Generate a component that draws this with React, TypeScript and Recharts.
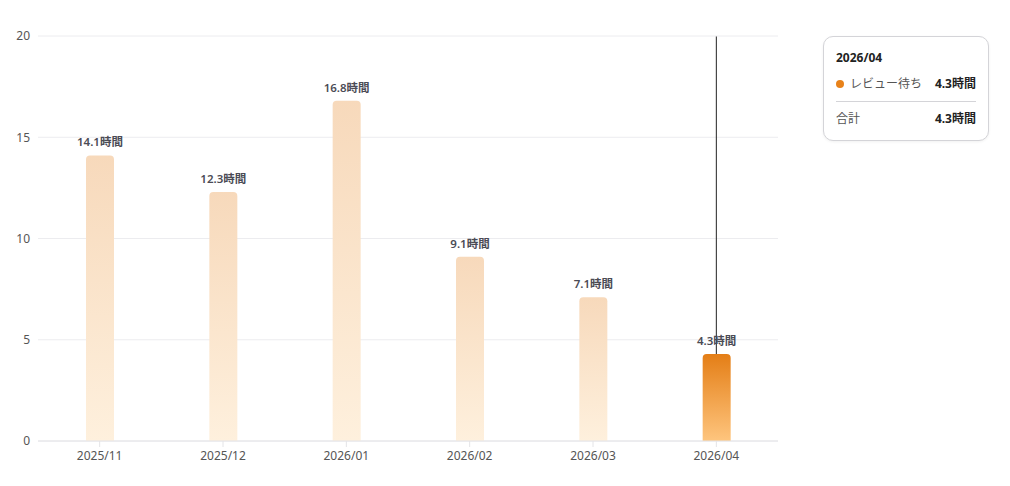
import React from 'react';
import { BarChart, Bar, XAxis, YAxis, CartesianGrid, Tooltip, LabelList, Cell } from 'recharts';

const categories = ['2025/11', '2025/12', '2026/01', '2026/02', '2026/03', '2026/04'];
const reviewHours = [14.1, 12.3, 16.8, 9.1, 7.1, 4.3];
const yTicks = [0, 5, 10, 15, 20];
const activeIndex = 5;
const seriesName = 'レビュー待ち';

const data = categories.map((c, i) => ({ month: c, review: reviewHours[i] }));

const FONT = '"Noto Sans", "Noto Sans CJK JP", sans-serif';

const CursorLine = (props: any) => {
  const { x, y, width, height, points } = props;
  if (typeof x === 'number' && typeof width === 'number') {
    const cx = x + width / 2;
    return <line x1={cx} x2={cx} y1={y} y2={y + height} stroke="#222" strokeWidth={1} />;
  }
  if (points && points.length >= 2) {
    return <line x1={points[0].x} x2={points[1].x} y1={points[0].y} y2={points[1].y} stroke="#222" strokeWidth={1} />;
  }
  return null;
};

const CustomTooltip = (props: any) => {
  const { active, payload, label } = props;
  if (!active || !payload || !payload.length) return null;
  const v = payload[0].value;
  const total = payload.reduce((s: number, p: any) => s + (p.value || 0), 0);
  return (
    <div
      style={{
        width: 166,
        boxSizing: 'border-box',
        background: '#fff',
        border: '1px solid #d4d4d8',
        borderRadius: 10,
        padding: '12px 12px 12px 12px',
        fontFamily: FONT,
        fontSize: 12,
        color: '#222',
        boxShadow: '0 1px 3px rgba(0,0,0,0.06)',
      }}
    >
      <div style={{ fontWeight: 700, fontSize: 12, marginBottom: 8, lineHeight: '18px' }}>{label}</div>
      <div style={{ display: 'flex', alignItems: 'center', justifyContent: 'space-between', lineHeight: '18px' }}>
        <span style={{ display: 'flex', alignItems: 'center', color: '#555' }}>
          <span style={{ width: 8, height: 8, borderRadius: 4, background: '#E8821A', display: 'inline-block', marginRight: 6 }} />
          {seriesName}
        </span>
        <span style={{ fontWeight: 700 }}>{v}時間</span>
      </div>
      <div style={{ borderTop: '1px solid #d4d4d8', margin: '8px 0 8px 0' }} />
      <div style={{ display: 'flex', justifyContent: 'space-between', lineHeight: '18px' }}>
        <span style={{ color: '#555' }}>合計</span>
        <span style={{ fontWeight: 700 }}>{Math.round(total * 10) / 10}時間</span>
      </div>
    </div>
  );
};

export default function App() {
  return (
    <div style={{ width: 994, height: 470, fontFamily: FONT }}>
      <BarChart
        width={994}
        height={470}
        data={data}
        margin={{ top: 28, right: 224, bottom: 7, left: 0 }}
      >
        <defs>
          <linearGradient id="orangeGrad" x1="0" y1="0" x2="0" y2="1">
            <stop offset="0%" stopColor="#E47E16" />
            <stop offset="100%" stopColor="#FEC57E" />
          </linearGradient>
          <linearGradient id="paleGrad" x1="0" y1="0" x2="0" y2="1">
            <stop offset="0%" stopColor="#F7D9BB" />
            <stop offset="100%" stopColor="#FEF0DD" />
          </linearGradient>
        </defs>
        <CartesianGrid vertical={false} stroke="#ececef" />
        <XAxis
          dataKey="month"
          tick={{ fontSize: 12, fill: '#555', fontFamily: FONT }}
          axisLine={{ stroke: '#e4e4e7' }}
          tickLine={{ stroke: '#e4e4e7' }}
          tickMargin={4}
        />
        <YAxis
          domain={[0, 20]}
          ticks={yTicks}
          width={30}
          tick={{ fontSize: 12, fill: '#555', fontFamily: FONT }}
          axisLine={false}
          tickLine={false}
        />
        <Tooltip
          content={<CustomTooltip />}
          defaultIndex={activeIndex}
          active={true}
          cursor={<CursorLine />}
          position={{ x: 815, y: 28 }}
          isAnimationActive={false}
          wrapperStyle={{ outline: 'none' }}
        />
        <Bar dataKey="review" name={seriesName} barSize={28} radius={[4, 4, 0, 0]} isAnimationActive={false}>
          {data.map((d, i) => (
            <Cell key={d.month} fill={i === activeIndex ? 'url(#orangeGrad)' : 'url(#paleGrad)'} />
          ))}
          <LabelList
            dataKey="review"
            position="top"
            offset={9}
            formatter={(v: any) => `${v}時間`}
            style={{ fontSize: 11.5, fill: '#4b4b55', fontWeight: 600, fontFamily: FONT }}
          />
        </Bar>
      </BarChart>
    </div>
  );
}
